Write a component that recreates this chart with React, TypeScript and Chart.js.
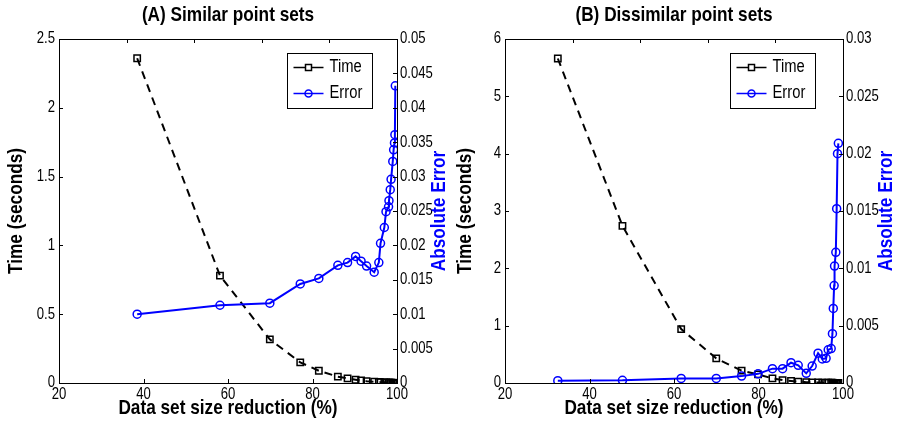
import React, { useEffect, useRef } from 'react';
import { Chart, registerables } from 'chart.js';

Chart.register(...registerables);

// ---------- Data ----------
const reductionA = [38.5, 58.1, 69.9, 77.1, 81.5, 86.0, 88.3, 90.2, 91.5, 92.8, 94.6, 95.7, 96.1, 97.0, 97.4, 98.0, 98.1, 98.4, 98.6, 99.0, 99.2, 99.4, 99.5, 99.6];
const timeA = [2.36, 0.78, 0.317, 0.15, 0.089, 0.046, 0.034, 0.024, 0.018, 0.013, 0.009, 0.007, 0.006, 0.005, 0.004, 0.003, 0.003, 0.002, 0.002, 0.002, 0.001, 0.001, 0.001, 0.001];
const errorA = [0.0100, 0.0113, 0.0116, 0.0144, 0.0152, 0.0171, 0.0175, 0.0184, 0.0177, 0.0170, 0.0161, 0.0175, 0.0203, 0.0226, 0.0249, 0.0256, 0.0265, 0.0281, 0.0296, 0.0322, 0.0339, 0.0349, 0.0361, 0.0432];

const reductionB = [32.5, 47.8, 61.7, 70.0, 76.0, 79.9, 83.3, 85.7, 87.7, 89.4, 91.3, 92.7, 94.1, 95.1, 96.0, 96.5, 97.2, 97.5, 97.7, 97.9, 98.0, 98.3, 98.5, 98.7, 98.9];
const timeB = [5.66, 2.74, 0.94, 0.43, 0.215, 0.15, 0.08, 0.05, 0.035, 0.025, 0.015, 0.012, 0.009, 0.007, 0.006, 0.005, 0.004, 0.004, 0.003, 0.003, 0.003, 0.002, 0.002, 0.002, 0.002];
const errorB = [0.0002, 0.00023, 0.0004, 0.0004, 0.0006, 0.0008, 0.00125, 0.00125, 0.00177, 0.00154, 0.00084, 0.00148, 0.0026, 0.0021, 0.00215, 0.0029, 0.0030, 0.0043, 0.0065, 0.0085, 0.0102, 0.0114, 0.0152, 0.0200, 0.0209];

const xTicks = [20, 40, 60, 80, 100];
const xTopTicks = [20, 36, 52, 68, 84, 100];
const timeTicksA = [0, 0.5, 1, 1.5, 2, 2.5];
const errorTicksA = [0, 0.005, 0.01, 0.015, 0.02, 0.025, 0.03, 0.035, 0.04, 0.045, 0.05];
const timeTicksB = [0, 1, 2, 3, 4, 5, 6];
const errorTicksB = [0, 0.005, 0.01, 0.015, 0.02, 0.025, 0.03];

const titleA = '(A) Similar point sets';
const titleB = '(B) Dissimilar point sets';
const xLabel = 'Data set size reduction (%)';
const yLabel = 'Time (seconds)';
const y2Label = 'Absolute Error';
const seriesNames = ['Time', 'Error'];

// ---------- Styling ----------
const FONT = "'Liberation Sans', Arial, Helvetica, sans-serif";
const BLUE = '#0000ff';
const H = 424;
const LABEL_SIZE = 21;
const TICK_SIZE = 16;
const NARROW = 0.82; // horizontal squeeze to mimic Helvetica Narrow rendering

const fmt = (v: number) => String(Number(v.toFixed(4)));

const matlabPlugin = {
  id: 'matlabDecor',
  afterDraw(chart: any, _args: any, opts: any) {
    const { ctx, chartArea } = chart;
    ctx.save();
    // inward ticks
    ctx.strokeStyle = '#000';
    ctx.lineWidth = 1;
    const len = 4;
    Object.values(chart.scales).forEach((s: any) => {
      ctx.beginPath();
      s.ticks.forEach((t: any) => {
        const p = Math.round(s.getPixelForValue(t.value)) + 0.5;
        if (s.position === 'bottom') { ctx.moveTo(p, s.top); ctx.lineTo(p, s.top - len); }
        else if (s.position === 'top') { ctx.moveTo(p, s.bottom); ctx.lineTo(p, s.bottom + len); }
        else if (s.position === 'left') { ctx.moveTo(s.right, p); ctx.lineTo(s.right + len, p); }
        else if (s.position === 'right') { ctx.moveTo(s.left, p); ctx.lineTo(s.left - len, p); }
      });
      ctx.stroke();
    });

    // right axis title (reads bottom-to-top)
    ctx.save();
    ctx.fillStyle = BLUE;
    ctx.font = `bold ${LABEL_SIZE}px ${FONT}`;
    ctx.textAlign = 'center';
    ctx.textBaseline = 'middle';
    ctx.translate(chartArea.right + opts.rightTitleOffset, (chartArea.top + chartArea.bottom) / 2);
    ctx.rotate(-Math.PI / 2);
    ctx.fillText(opts.rightTitle, 0, 0);
    ctx.restore();

    // legend box
    const w = 85, h = 55;
    const x0 = Math.round(chartArea.right - opts.legendRight - w) + 0.5;
    const y0 = Math.round(chartArea.top + 14) + 0.5;
    ctx.fillStyle = '#fff';
    ctx.fillRect(x0, y0, w, h);
    ctx.strokeStyle = '#000';
    ctx.lineWidth = 1;
    ctx.strokeRect(x0, y0, w, h);
    chart.data.datasets.forEach((ds: any, i: number) => {
      const cy = y0 + 14 + i * 26;
      const lx0 = x0 + 6, lx1 = x0 + 36, mx = (lx0 + lx1) / 2;
      ctx.strokeStyle = ds.borderColor;
      ctx.lineWidth = 1.5;
      ctx.beginPath();
      ctx.moveTo(lx0, cy); ctx.lineTo(lx1, cy);
      ctx.stroke();
      ctx.beginPath();
      if (ds.pointStyle === 'rect') {
        ctx.fillStyle = '#fff';
        ctx.fillRect(mx - 3, cy - 3, 6, 6);
        ctx.strokeRect(mx - 3, cy - 3, 6, 6);
      } else {
        ctx.arc(mx, cy, 3.5, 0, Math.PI * 2);
        ctx.stroke();
      }
      ctx.fillStyle = '#000';
      ctx.font = `18px ${FONT}`;
      ctx.textAlign = 'left';
      ctx.textBaseline = 'middle';
      ctx.fillText(ds.label, x0 + 42, cy);
    });
    ctx.restore();
  },
};

function makeConfig(p: {
  xs: number[]; time: number[]; err: number[]; title: string;
  timeTicks: number[]; errTicks: number[]; width: number;
  leftW: number; rightW: number; leftTitlePad: number; legendRight: number; rightTitleOffset: number;
}) {
  const tickFont = { family: FONT, size: TICK_SIZE };
  const labelFont = { family: FONT, size: LABEL_SIZE, weight: 'bold' as const };
  const setTicks = (arr: number[]) => (s: any) => { s.ticks = arr.map((v) => ({ value: v })); };
  const border = { display: true, color: '#000', width: 1 };
  const grid = { display: false, drawTicks: false };
  return {
    type: 'line' as const,
    data: {
      datasets: [
        {
          label: seriesNames[0],
          data: p.xs.map((x, i) => ({ x, y: p.time[i] })),
          xAxisID: 'x', yAxisID: 'y',
          borderColor: '#000', borderWidth: 2, borderDash: [8, 6],
          pointStyle: 'rect', pointRadius: 4.5, pointBorderWidth: 1.5,
          pointBorderColor: '#000', pointBackgroundColor: 'rgba(0,0,0,0)',
          tension: 0, order: 1,
        },
        {
          label: seriesNames[1],
          data: p.xs.map((x, i) => ({ x, y: p.err[i] })),
          xAxisID: 'x', yAxisID: 'y1',
          borderColor: BLUE, borderWidth: 2,
          pointStyle: 'circle', pointRadius: 4, pointBorderWidth: 1.5,
          pointBorderColor: BLUE, pointBackgroundColor: 'rgba(0,0,0,0)',
          tension: 0, order: 0,
        },
      ],
    },
    options: {
      animation: false,
      responsive: false,
      maintainAspectRatio: false,
      layout: { padding: 0 },
      plugins: {
        legend: { display: false },
        tooltip: { enabled: false },
        title: { display: false },
        matlabDecor: { rightTitle: y2Label, rightTitleOffset: p.rightTitleOffset, legendRight: p.legendRight },
      },
      scales: {
        x: {
          type: 'linear', position: 'bottom', min: 20, max: 100,
          afterBuildTicks: setTicks(xTicks),
          grid, border,
          ticks: { font: tickFont, color: '#000', padding: 2, maxRotation: 0, autoSkip: false, callback: (v: any) => fmt(Number(v)) },
          title: { display: true, text: xLabel, color: '#000', font: labelFont, padding: { top: 0, bottom: 3 } },
          afterFit: (s: any) => { s.height = H - 383; },
        },
        xTop: {
          type: 'linear', position: 'top', min: 20, max: 100,
          afterBuildTicks: setTicks(xTopTicks),
          grid, border,
          ticks: { display: false },
          title: { display: true, text: p.title, color: '#000', font: { family: FONT, size: 21, weight: 'bold' }, padding: { top: 3, bottom: 0 } },
          afterFit: (s: any) => { s.height = 39; },
        },
        y: {
          type: 'linear', position: 'left', min: 0, max: p.timeTicks[p.timeTicks.length - 1],
          afterBuildTicks: setTicks(p.timeTicks),
          grid, border,
          ticks: { font: tickFont, color: '#000', padding: 4, autoSkip: false, callback: (v: any) => fmt(Number(v)) },
          title: { display: true, text: yLabel, color: '#000', font: labelFont, padding: { top: p.leftTitlePad, bottom: 0 } },
          afterFit: (s: any) => { s.width = p.leftW; },
        },
        y1: {
          type: 'linear', position: 'right', min: 0, max: p.errTicks[p.errTicks.length - 1],
          afterBuildTicks: setTicks(p.errTicks),
          grid, border,
          ticks: { font: tickFont, color: '#000', padding: 3, autoSkip: false, callback: (v: any) => fmt(Number(v)) },
          title: { display: false },
          afterFit: (s: any) => { s.width = p.rightW; },
        },
      },
    },
    plugins: [matlabPlugin],
  };
}

function Panel(props: { cfg: any; left: number; width: number }) {
  const ref = useRef<HTMLCanvasElement | null>(null);
  useEffect(() => {
    const canvas = ref.current;
    if (!canvas) return;
    const ctx: any = canvas.getContext('2d');
    const origFill = ctx.fillText.bind(ctx);
    ctx.fillText = (text: string, x: number, y: number) => {
      ctx.save();
      ctx.translate(x, y);
      ctx.scale(NARROW, 1);
      origFill(text, 0, 0);
      ctx.restore();
    };
    const chart = new Chart(canvas, props.cfg);
    return () => chart.destroy();
  }, []);
  return (
    <canvas
      ref={ref}
      width={props.width}
      height={H}
      style={{ position: 'absolute', left: props.left, top: 0, width: props.width, height: H }}
    />
  );
}

export default function App() {
  const cfgA = makeConfig({
    xs: reductionA, time: timeA, err: errorA, title: titleA,
    timeTicks: timeTicksA, errTicks: errorTicksA, width: 453,
    leftW: 59, rightW: 453 - 397, leftTitlePad: 4, legendRight: 25, rightTitleOffset: 42,
  });
  const cfgB = makeConfig({
    xs: reductionB, time: timeB, err: errorB, title: titleB,
    timeTicks: timeTicksB, errTicks: errorTicksB, width: 454,
    leftW: 52, rightW: 454 - 390, leftTitlePad: 0, legendRight: 28, rightTitleOffset: 43,
  });
  return (
    <div style={{ position: 'absolute', left: 0, top: 0, width: 907, height: H, background: '#fff' }}>
      <Panel cfg={cfgA} left={0} width={453} />
      <Panel cfg={cfgB} left={453} width={454} />
    </div>
  );
}
